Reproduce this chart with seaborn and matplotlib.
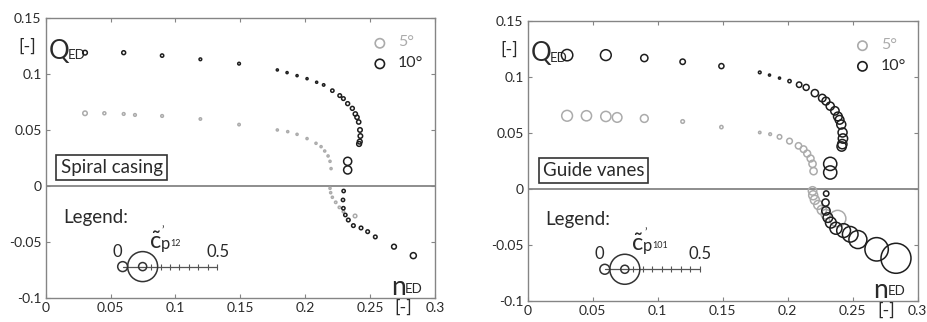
import numpy as np
import pandas as pd
import matplotlib
matplotlib.use("Agg")
import matplotlib.pyplot as plt
import seaborn as sns

# ---------------- data ----------------
# operating points (n_ED, Q_ED) for the two guide-vane openings
nED_10 = [0.0303, 0.0601, 0.0897, 0.1192, 0.149, 0.1785, 0.186, 0.1937, 0.2014, 0.2088,
          0.2142, 0.2209, 0.2266, 0.2294, 0.2327, 0.2363, 0.2386, 0.2399, 0.2412, 0.2422,
          0.2425, 0.242, 0.2415, 0.2327, 0.2327, 0.2296, 0.2291, 0.2294, 0.2309, 0.2332,
          0.2371, 0.243, 0.2481, 0.254, 0.2684, 0.2833]
QED_10 = [0.1193, 0.1193, 0.1167, 0.1134, 0.1095, 0.1039, 0.1015, 0.0988, 0.0961, 0.0929,
          0.0905, 0.0854, 0.0810, 0.0783, 0.0738, 0.0696, 0.0646, 0.0616, 0.0574, 0.0503,
          0.0449, 0.0399, 0.0378, 0.0223, 0.0146, -0.0042, -0.0122, -0.0196, -0.0256, -0.0301,
          -0.0351, -0.0372, -0.0405, -0.0452, -0.0539, -0.0619]
nED_5 = [0.0303, 0.0452, 0.0601, 0.0688, 0.0897, 0.1192, 0.149, 0.1785, 0.1865, 0.1937,
         0.2014, 0.2083, 0.2122, 0.215, 0.2176, 0.2191, 0.2199, 0.2191, 0.2196, 0.2209,
         0.2235, 0.2263, 0.2294, 0.2384]
QED_5 = [0.0652, 0.0652, 0.0646, 0.0637, 0.0628, 0.0601, 0.0551, 0.0503, 0.0488, 0.0464,
         0.0426, 0.0384, 0.0354, 0.0315, 0.0271, 0.0223, 0.0158, -0.0018, -0.0057, -0.0098,
         -0.0143, -0.0188, -0.0226, -0.0265]

# pressure fluctuation amplitude c~'p at sensor 12 (spiral casing)
cp12_10 = [0.0155, 0.013, 0.011, 0.009, 0.009, 0.007, 0.007, 0.007, 0.007, 0.007,
           0.008, 0.011, 0.012, 0.012, 0.013, 0.013, 0.014, 0.014, 0.014, 0.015,
           0.015, 0.016, 0.016, 0.027, 0.027, 0.011, 0.011, 0.011, 0.011, 0.012,
           0.012, 0.012, 0.012, 0.012, 0.016, 0.02]
cp12_5 = [0.015, 0.01, 0.009, 0.009, 0.009, 0.008, 0.008, 0.007, 0.007, 0.007,
          0.007, 0.007, 0.007, 0.007, 0.007, 0.007, 0.007, 0.007, 0.007, 0.007,
          0.008, 0.008, 0.008, 0.012]
# pressure fluctuation amplitude c~'p at sensor 101 (guide vanes)
cp101_10 = [0.038, 0.036, 0.024, 0.018, 0.017, 0.009, 0.007, 0.007, 0.011, 0.018,
            0.02, 0.024, 0.025, 0.026, 0.027, 0.028, 0.029, 0.029, 0.03, 0.03,
            0.031, 0.031, 0.031, 0.044, 0.044, 0.018, 0.024, 0.028, 0.032, 0.036,
            0.04, 0.046, 0.052, 0.06, 0.078, 0.1]
cp101_5 = [0.036, 0.034, 0.034, 0.032, 0.026, 0.012, 0.011, 0.008, 0.009, 0.015,
           0.019, 0.021, 0.022, 0.023, 0.023, 0.024, 0.024, 0.028, 0.03, 0.03,
           0.03, 0.031, 0.032, 0.055]

panel_titles = ["Spiral casing", "Guide vanes"]
sensor_labels = ["12", "101"]
angle_labels = ["5°", "10°"]
x_ticks = [0, 0.05, 0.1, 0.15, 0.2, 0.25, 0.3]
x_tick_labels = ["0", "0.05", "0.1", "0.15", "0.2", "0.25", "0.3"]
y_ticks = [-0.1, -0.05, 0, 0.05, 0.1, 0.15]
y_tick_labels = ["-0.1", "-0.05", "0", "0.05", "0.1", "0.15"]
legend_scale_labels = ["0", "0.5"]

# ---------------- style ----------------
sns.set_theme(style="white")
FONT = ["Lato", "DejaVu Sans"]
plt.rcParams["font.family"] = FONT
plt.rcParams["mathtext.fontset"] = "custom"
plt.rcParams["mathtext.rm"] = "Lato"
plt.rcParams["mathtext.it"] = "Lato:italic"

BLACK = "#1e1e1e"
GRAY = "#ababab"
AXGRAY = "#858585"
TXT = "#2a2a2a"


def size_of(cp):
    # circle radius in px proportional to amplitude -> scatter area in pt^2
    d_pt = 2 * 150 * np.asarray(cp) * 0.72
    return d_pt ** 2


fig = plt.figure(figsize=(9.27, 3.22), dpi=100)
ax_rects = [[45.7 / 927, 23.7 / 322, 389.3 / 927, 280 / 322],
            [527.7 / 927, 21 / 322, 390 / 927, 280.3 / 322]]

for k, (rect, title, sens, cp10, cp5) in enumerate(zip(
        ax_rects, panel_titles, sensor_labels, [cp12_10, cp101_10], [cp12_5, cp101_5])):
    ax = fig.add_axes(rect)
    ax.set_xlim(0, 0.3)
    ax.set_ylim(-0.1, 0.15)

    ax.axhline(0, color=AXGRAY, lw=1.3, zorder=1)

    sns.scatterplot(x=nED_5, y=QED_5, s=size_of(cp5), color=GRAY, facecolors="none",
                    edgecolor=GRAY, linewidth=1.1, legend=False, ax=ax, zorder=3)
    sns.scatterplot(x=nED_10, y=QED_10, s=size_of(cp10), color=BLACK, facecolors="none",
                    edgecolor=BLACK, linewidth=1.1, legend=False, ax=ax, zorder=4)

    # spines and ticks
    for sp in ax.spines.values():
        sp.set_color(AXGRAY)
        sp.set_linewidth(1.0)
    ax.set_xticks(x_ticks)
    ax.set_xticklabels(x_tick_labels)
    ax.set_yticks(y_ticks)
    ax.set_yticklabels(y_tick_labels)
    ax.tick_params(direction="in", length=3, width=0.8, color=AXGRAY, top=True, right=True,
                   bottom=True, left=True, labelsize=10, labelcolor=TXT, pad=3)
    ax.set_xlabel("")
    ax.set_ylabel("")

    # axis annotations
    ax.text(-0.0145, 0.1245, "[-]", fontsize=13, color=TXT, ha="center", va="center",
            clip_on=False)
    ax.text(0.002, 0.1205, "Q", fontsize=18.5, color=TXT, ha="left", va="center")
    ax.text(0.0168, 0.1170, "ED", fontsize=9.5, color=TXT, ha="left", va="center")
    ax.text(0.266, -0.0905, "n", fontsize=19, color=TXT, ha="left", va="center")
    ax.text(0.2768, -0.0915, "ED", fontsize=9.5, color=TXT, ha="left", va="center")
    ax.text(0.2755, -0.1085, "[-]", fontsize=13, color=TXT, ha="center", va="center",
            clip_on=False)

    # panel label box
    ax.text(0.0115, 0.0167, title, fontsize=13.5, color=TXT, ha="left", va="center",
            bbox=dict(boxstyle="square,pad=0.22", fc="white", ec="#333333", lw=1.2))

    # 5/10 degree legend
    ax.scatter([0.2575], [0.1277], s=size_of(0.031), facecolors="none", edgecolors=GRAY,
               linewidths=1.2, zorder=5)
    ax.scatter([0.2575], [0.1093], s=size_of(0.031), facecolors="none", edgecolors=BLACK,
               linewidths=1.2, zorder=5)
    ax.text(0.2715, 0.1285, angle_labels[0], fontsize=11.5, color=GRAY, ha="left", va="center")
    ax.text(0.2715, 0.1100, angle_labels[1], fontsize=11.5, color=TXT, ha="left", va="center")

    # size legend
    ax.text(0.0135, -0.0275, "Legend:", fontsize=13.5, color=TXT, ha="left", va="center")
    x0, x1, yl = 0.0593, 0.1323, -0.0717
    ax.plot([x0, x1], [yl, yl], color="#555555", lw=0.9, zorder=5)
    tx = np.linspace(x0, x1, 11)
    ax.scatter(tx[3:], [yl] * len(tx[3:]), marker="|", s=18, color="#555555",
               linewidths=0.8, zorder=5)
    ax.scatter([x0], [yl], s=size_of(0.033), facecolors="none", edgecolors="#333333",
               linewidths=1.1, zorder=6)
    ax.scatter([0.0747], [yl], s=size_of(0.1), facecolors="none", edgecolors="#333333",
               linewidths=1.1, zorder=6)
    ax.scatter([0.0747], [yl], s=size_of(0.027), facecolors="none", edgecolors="#333333",
               linewidths=1.1, zorder=6)
    ax.text(0.0552, -0.0585, legend_scale_labels[0], fontsize=12, color=TXT,
            ha="center", va="center")
    ax.text(0.1325, -0.0585, legend_scale_labels[1], fontsize=12, color=TXT,
            ha="center", va="center")
    ax.text(0.0795, -0.0495, r"$\tilde{\mathrm{c}}$", fontsize=17, color=TXT,
            ha="left", va="center")
    ax.text(0.0895, -0.0395, "\u2019", fontsize=8, color=TXT, ha="left", va="center")
    ax.text(0.0885, -0.0512, "p", fontsize=12, color=TXT, ha="left", va="center")
    ax.text(0.0960, -0.0507, sens, fontsize=6.5, color=TXT, ha="left", va="center")

fig.savefig("out.png", dpi=100)
